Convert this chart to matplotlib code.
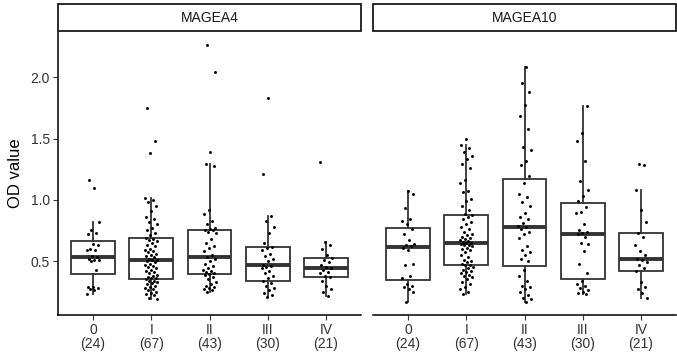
import matplotlib
matplotlib.use('Agg')
import matplotlib.pyplot as plt
from matplotlib.patches import Rectangle
import numpy as np

plt.rcParams['font.family'] = ['Liberation Sans', 'DejaVu Sans']

genes = ['MAGEA4', 'MAGEA10']
stages = ['0', 'I', 'II', 'III', 'IV']
counts = [24, 67, 43, 30, 21]
tick_labels = [f'{s}\n({n})' for s, n in zip(stages, counts)]

# ---- MAGEA4 OD values per stage ----
magea4_0 = [0.233, 0.26, 0.274, 0.28, 0.287, 0.29, 0.424, 0.5, 0.505, 0.51, 0.52, 0.53,
            0.54, 0.587, 0.59, 0.6, 0.63, 0.64, 0.72, 0.73, 0.756, 0.822, 1.097, 1.16]
magea4_I = [1.75, 1.48, 1.385,
            1.015, 1.00, 0.98, 0.95, 0.91, 0.86, 0.84, 0.82, 0.80, 0.77, 0.75, 0.73, 0.71, 0.69,
            0.68, 0.67, 0.66, 0.65, 0.63, 0.62, 0.60, 0.59, 0.58, 0.57, 0.56, 0.55, 0.54, 0.53, 0.52, 0.51,
            0.505,
            0.50, 0.49, 0.48, 0.47, 0.46, 0.45, 0.44, 0.43, 0.42, 0.41, 0.40, 0.39, 0.38, 0.37, 0.365, 0.36,
            0.35, 0.34, 0.335, 0.33, 0.32, 0.31, 0.30, 0.29, 0.28, 0.27, 0.26, 0.25, 0.24, 0.23, 0.22, 0.20, 0.19]
magea4_II = [2.264, 2.046, 1.386,
             1.288, 1.275, 0.92, 0.88, 0.83, 0.80, 0.77, 0.76,
             0.752, 0.75, 0.74, 0.73, 0.68, 0.65, 0.62, 0.61, 0.58, 0.55,
             0.53,
             0.52, 0.50, 0.48, 0.46, 0.44, 0.43, 0.42, 0.41, 0.40, 0.398,
             0.39, 0.37, 0.35, 0.33, 0.31, 0.30, 0.29, 0.28, 0.27, 0.26, 0.246]
magea4_III = [1.828, 1.214,
              0.865, 0.83, 0.78, 0.73, 0.65, 0.615,
              0.607, 0.59, 0.56, 0.54, 0.52, 0.50, 0.47,
              0.46, 0.455, 0.44, 0.42, 0.40, 0.38, 0.36,
              0.335, 0.32, 0.30, 0.28, 0.26, 0.24, 0.22, 0.205]
magea4_IV = [0.219, 0.25, 0.27, 0.30, 0.34, 0.366, 0.38, 0.40, 0.41, 0.43, 0.443,
             0.45, 0.47, 0.49, 0.51, 0.527, 0.55, 0.60, 0.63, 0.655, 1.31]

# ---- MAGEA10 OD values per stage ----
magea10_0 = [0.165, 0.245, 0.27, 0.29, 0.30, 0.31, 0.36, 0.38, 0.47, 0.48, 0.59, 0.605,
             0.62, 0.63, 0.64, 0.67, 0.72, 0.76, 0.80, 0.83, 0.84, 0.93, 1.05, 1.073]
magea10_I = [1.498, 1.446, 1.42, 1.39, 1.36, 1.33, 1.29, 1.26, 1.16, 1.14, 1.07, 1.06, 1.01, 0.99,
             0.95, 0.92, 0.885,
             0.873, 0.86, 0.84, 0.82, 0.80, 0.78, 0.76, 0.74, 0.72, 0.71, 0.70, 0.69, 0.68, 0.67, 0.66, 0.655,
             0.65,
             0.645, 0.64, 0.635, 0.63, 0.62, 0.61, 0.60, 0.59, 0.57, 0.55, 0.53, 0.51, 0.50, 0.49, 0.48, 0.47,
             0.464, 0.45, 0.44, 0.43, 0.42, 0.41, 0.40, 0.39, 0.38, 0.37, 0.35, 0.33, 0.31, 0.29, 0.27, 0.25, 0.233]
magea10_II = [2.087, 1.95, 1.88, 1.77, 1.68, 1.58, 1.43, 1.41, 1.32, 1.28, 1.195,
              1.14, 1.05, 1.02, 0.98, 0.95, 0.89, 0.86, 0.84, 0.81, 0.79,
              0.778,
              0.76, 0.74, 0.72, 0.69, 0.62, 0.59, 0.57, 0.55, 0.52, 0.50,
              0.424, 0.38, 0.34, 0.30, 0.29, 0.27, 0.25, 0.22, 0.20, 0.19, 0.165]
magea10_III = [1.768, 1.547, 1.48, 1.32, 1.155, 1.08, 1.03, 0.99,
               0.94, 0.90, 0.89, 0.80, 0.75, 0.74, 0.73,
               0.718, 0.70, 0.65, 0.64, 0.58, 0.48, 0.40,
               0.337, 0.31, 0.30, 0.28, 0.26, 0.25, 0.24, 0.233]
magea10_IV = [0.197, 0.24, 0.27, 0.29, 0.33, 0.418, 0.44, 0.47, 0.49, 0.51, 0.519,
              0.55, 0.58, 0.63, 0.70, 0.732, 0.82, 0.92, 1.078, 1.283, 1.296]

panel_data = {
    'MAGEA4': [magea4_0, magea4_I, magea4_II, magea4_III, magea4_IV],
    'MAGEA10': [magea10_0, magea10_I, magea10_II, magea10_III, magea10_IV],
}

W, H = 677, 356
fig = plt.figure(figsize=(W / 100, H / 100), dpi=100)

all_vals = np.concatenate([np.concatenate(v) for v in panel_data.values()])
lo, hi = all_vals.min(), all_vals.max()
pad = 0.05 * (hi - lo)
ylim = (lo - pad, hi + pad)

panel_x = [58, 373]
panel_w = 303
top, bottom = 32, 315
strip_top = 4

grey = '#333333'
for k, gene in enumerate(genes):
    left = panel_x[k]
    ax = fig.add_axes([left / W, (H - bottom) / H, panel_w / W, (bottom - top) / H])
    data = panel_data[gene]
    pos = np.arange(1, len(stages) + 1)
    ax.boxplot(data, positions=pos, widths=0.75, whis=1.5, showfliers=False,
               showcaps=False, patch_artist=True,
               boxprops=dict(facecolor='white', edgecolor=grey, linewidth=1.3),
               whiskerprops=dict(color=grey, linewidth=1.3),
               medianprops=dict(color=grey, linewidth=2.8, solid_capstyle='butt'),
               zorder=2)
    for i, vals in enumerate(data):
        n = len(vals)
        offs = ((np.arange(n) * 0.6180339887 + 0.31 * k + 0.17 * i) % 1.0 - 0.5) * 0.22
        ax.scatter(pos[i] + offs, vals, s=4.5, color='black', linewidths=0, zorder=3)
    ax.set_xlim(0.4, len(stages) + 0.6)
    ax.set_ylim(*ylim)
    ax.set_xticks(pos)
    ax.set_xticklabels(tick_labels, fontsize=10, color='#333333', linespacing=1.0)
    ax.set_yticks([0.5, 1.0, 1.5, 2.0])
    ax.set_yticklabels(['0.5', '1.0', '1.5', '2.0'], fontsize=10, color='#333333')
    ax.tick_params(axis='both', length=3.5, width=0.8, color='#333333', pad=2.5)
    for s in ['top', 'right']:
        ax.spines[s].set_visible(False)
    ax.spines['bottom'].set_linewidth(1.1)
    ax.spines['left'].set_linewidth(1.1)
    if k == 0:
        ax.set_ylabel('OD value', fontsize=12, color='black', labelpad=5)
    else:
        ax.spines['left'].set_visible(False)
        ax.tick_params(axis='y', left=False, labelleft=False)

    sax = fig.add_axes([left / W, (H - top + 1) / H, panel_w / W, (top - 1 - strip_top) / H])
    sax.set_xlim(0, 1)
    sax.set_ylim(0, 1)
    sax.axis('off')
    sax.add_patch(Rectangle((0, 0), 1, 1, transform=sax.transAxes, facecolor='white',
                            edgecolor='#1a1a1a', linewidth=1.3, clip_on=False))
    sax.text(0.5, 0.5, gene, ha='center', va='center', fontsize=10, color='#1a1a1a')

fig.savefig('out.png', dpi=100)
